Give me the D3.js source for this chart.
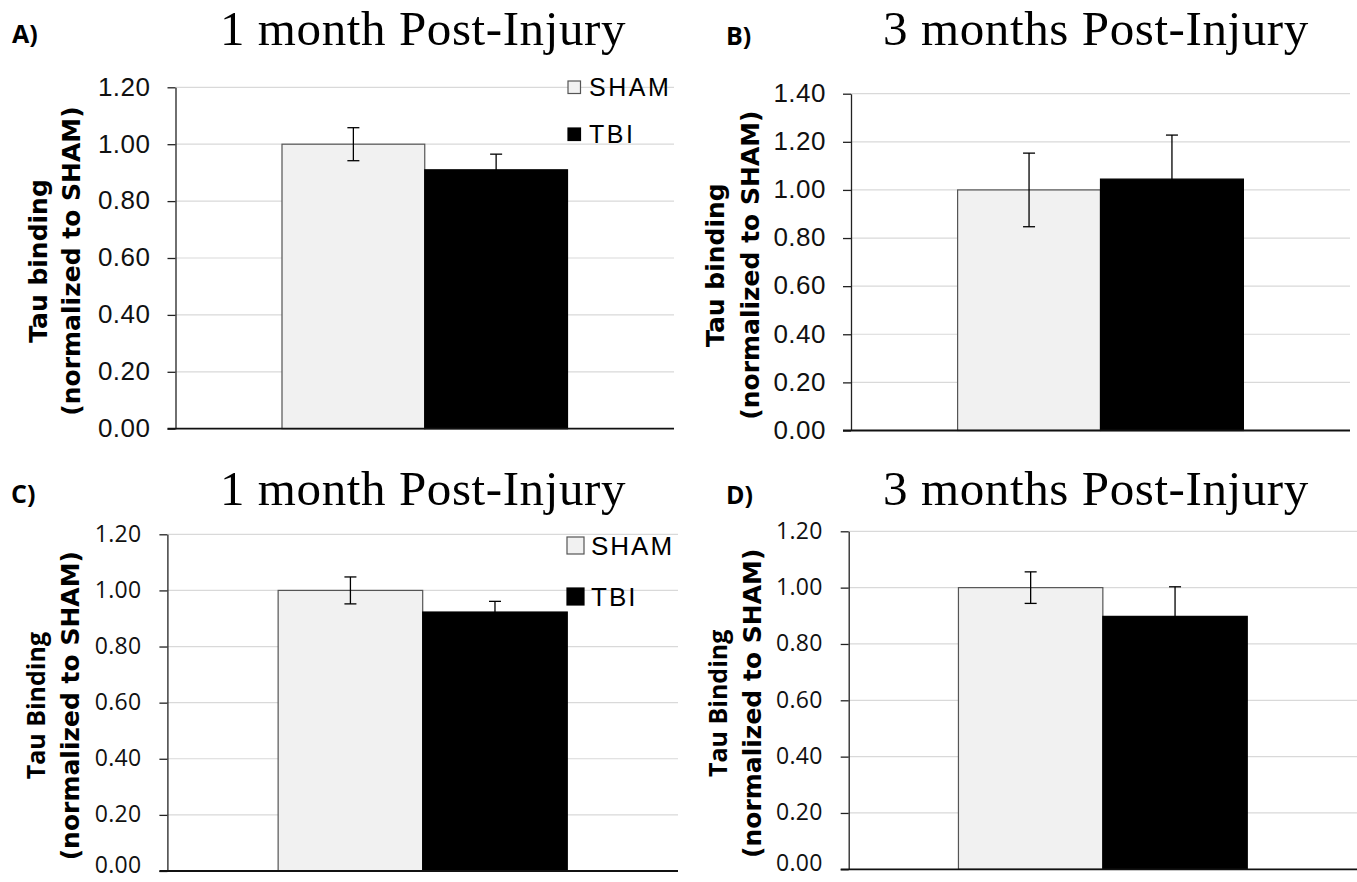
<!DOCTYPE html>
<html>
<head>
<meta charset="utf-8">
<script src="https://cdn.jsdelivr.net/npm/d3@7"></script>
<style>
  body { margin: 0; background: #fff; }
  svg { display: block; }
</style>
</head>
<body>
<svg id="board"></svg>
<script>
const width = 1357;
const height = 882;

// data
const panelLabels = ["A)", "B)", "C)", "D)"];
const panelTitles = ["1 month Post-Injury", "3 months Post-Injury", "1 month Post-Injury", "3 months Post-Injury"];
const groups = ["SHAM", "TBI"];
const categories = ["Post-Injury"];
const yTitleTop = ["Tau binding", "Tau binding", "Tau Binding", "Tau Binding"];
const yTitleBottom = ["(normalized to SHAM)", "(normalized to SHAM)", "(normalized to SHAM)", "(normalized to SHAM)"];
const yMax = [1.2, 1.4, 1.2, 1.2];
const ticks12 = [0, 0.2, 0.4, 0.6, 0.8, 1.0, 1.2];
const ticks14 = [0, 0.2, 0.4, 0.6, 0.8, 1.0, 1.2, 1.4];
const yTicks = [ticks12, ticks14, ticks12, ticks12];
const shamMean = [1.00, 1.00, 1.00, 1.00];
const shamErr = [0.058, 0.153, 0.048, 0.056];
const tbiMean = [0.910, 1.045, 0.923, 0.898];
const tbiErr = [0.055, 0.183, 0.038, 0.105];
const showLegend = [true, false, true, false];

// where each panel sits on the page
const layout = [
    {left: 175.5, right: 674, top: 87.3, bottom: 428.7, pad: 0.373, titleX: 423, titleY: 45, labX: 12, labY: 43,
     t1: -129, t2: -96, tickFont: "Liberation Sans", tickSize: 26, tickSpace: 0.5, tickPad: 17, topFont: "DejaVu Sans", topSize: 25},
    {left: 851, right: 1350, top: 93.7, bottom: 430.5, pad: 0.373, titleX: 1096, titleY: 45, labX: 726, labY: 45,
     t1: -127, t2: -92, tickFont: "Liberation Sans", tickSize: 26, tickSpace: 0.5, tickPad: 17, topFont: "DejaVu Sans", topSize: 25},
    {left: 167.4, right: 678, top: 534.3, bottom: 871, pad: 0.383, titleX: 423, titleY: 505, labX: 11, labY: 503,
     t1: -122, t2: -88, tickFont: "Open Sans", tickSize: 23, tickSpace: 0.3, tickPad: 18, topFont: "Open Sans", topSize: 25},
    {left: 848.7, right: 1357, top: 531.3, bottom: 869.3, pad: 0.38, titleX: 1096, titleY: 505, labX: 726, labY: 504,
     t1: -122, t2: -88, tickFont: "Open Sans", tickSize: 23, tickSpace: 0.3, tickPad: 18, topFont: "Open Sans", topSize: 25}
];

const colors = {SHAM: "#f1f1f1", TBI: "#000000"};

const svg = d3.select("#board").attr("width", width).attr("height", height);
svg.append("rect").attr("width", width).attr("height", height).attr("fill", "#fff");

function drawPanel(i) {
    const L = layout[i];
    const g = svg.append("g");

    const y = d3.scaleLinear().domain([0, yMax[i]]).range([L.bottom, L.top]);
    const x0 = d3.scaleBand().domain(categories).range([L.left, L.right]).paddingInner(0).paddingOuter(L.pad);
    const x1 = d3.scaleBand().domain(groups).range([0, x0.bandwidth()]);

    // gridlines
    g.selectAll(".grid")
        .data(yTicks[i].filter(d => d > 0))
        .enter().append("line")
        .attr("x1", L.left).attr("x2", L.right)
        .attr("y1", d => y(d)).attr("y2", d => y(d))
        .attr("stroke", "#d9d9d9").attr("stroke-width", 1.2);

    // y axis
    const yAxis = d3.axisLeft(y)
        .tickValues(yTicks[i])
        .tickFormat(d3.format(".2f"))
        .tickSize(8)
        .tickPadding(L.tickPad)
        .tickSizeOuter(0);
    const ay = g.append("g").attr("transform", `translate(${L.left},0)`).call(yAxis);
    ay.select(".domain").attr("stroke", "#222").attr("stroke-width", 1.3);
    ay.selectAll(".tick line").attr("stroke", "#222").attr("stroke-width", 1.3);
    // the bottom panels sit right at the page edge, so lift their zero label a bit
    const lowPanel = L.bottom > 800;
    ay.selectAll(".tick text")
        .attr("fill", "#111")
        .attr("dy", d => (lowPanel && d === 0) ? "0.05em" : "0.3em")
        .style("font-family", L.tickFont)
        .style("font-size", L.tickSize + "px")
        .style("letter-spacing", L.tickSpace + "px");

    // bars
    const rows = groups.map(k => ({
        key: k,
        cat: categories[0],
        mean: k === "SHAM" ? shamMean[i] : tbiMean[i],
        err: k === "SHAM" ? shamErr[i] : tbiErr[i]
    }));

    g.selectAll(".bar")
        .data(rows)
        .enter().append("rect")
        .attr("x", d => x0(d.cat) + x1(d.key))
        .attr("width", x1.bandwidth())
        .attr("y", d => y(d.mean))
        .attr("height", d => y(0) - y(d.mean))
        .attr("fill", d => colors[d.key])
        .attr("stroke", d => d.key === "SHAM" ? "#555" : "#000")
        .attr("stroke-width", 1.2);

    // error bars
    const eb = g.selectAll(".err").data(rows).enter().append("g")
        .attr("stroke", "#000").attr("stroke-width", 1.3);
    const cx = d => x0(d.cat) + x1(d.key) + x1.bandwidth() / 2;
    eb.append("line")
        .attr("x1", cx).attr("x2", cx)
        .attr("y1", d => y(d.mean + d.err)).attr("y2", d => y(d.mean - d.err));
    eb.append("line")
        .attr("x1", d => cx(d) - 6).attr("x2", d => cx(d) + 6)
        .attr("y1", d => y(d.mean + d.err)).attr("y2", d => y(d.mean + d.err));
    eb.append("line")
        .attr("x1", d => cx(d) - 6).attr("x2", d => cx(d) + 6)
        .attr("y1", d => y(d.mean - d.err)).attr("y2", d => y(d.mean - d.err));

    // x axis baseline
    g.append("line")
        .attr("x1", L.left - 8).attr("x2", L.right)
        .attr("y1", y(0)).attr("y2", y(0))
        .attr("stroke", "#111").attr("stroke-width", 1.8);

    // y axis title
    const cy = (L.top + L.bottom) / 2 + 3;
    g.append("text")
        .attr("transform", `translate(${L.left + L.t1},${cy}) rotate(-90)`)
        .attr("text-anchor", "middle")
        .style("font-family", L.topFont)
        .style("font-weight", "bold")
        .style("font-size", L.topSize + "px")
        .text(yTitleTop[i]);
    g.append("text")
        .attr("transform", `translate(${L.left + L.t2},${cy}) rotate(-90)`)
        .attr("text-anchor", "middle")
        .style("font-family", "DejaVu Sans")
        .style("font-weight", "bold")
        .style("font-size", "25px")
        .text(yTitleBottom[i]);

    // title and panel letter
    g.append("text")
        .attr("x", L.titleX).attr("y", L.titleY)
        .attr("text-anchor", "middle")
        .style("font-family", "Liberation Serif")
        .style("font-size", "49px")
        .style("letter-spacing", "0.6px")
        .text(panelTitles[i]);
    g.append("text")
        .attr("x", L.labX).attr("y", L.labY)
        .style("font-family", "Open Sans")
        .style("font-weight", "bold")
        .style("font-size", "25px")
        .text(panelLabels[i]);

    // legend
    if (showLegend[i]) {
        const big = i === 2;
        const box = big ? 17 : 12.5;
        const lx = big ? 567 : 568;
        const ly = big ? [537, 588] : [81, 128];
        const leg = g.selectAll(".leg").data(groups).enter().append("g");
        leg.append("rect")
            .attr("x", lx).attr("y", (d, j) => ly[j])
            .attr("width", box).attr("height", box)
            .attr("fill", d => colors[d])
            .attr("stroke", d => d === "SHAM" ? "#555" : "#000")
            .attr("stroke-width", 1.2);
        leg.append("text")
            .attr("x", big ? 591 : 589)
            .attr("y", (d, j) => ly[j] + box + (big ? 1 : 2))
            .style("font-family", "Liberation Sans")
            .style("font-size", big ? "26px" : "25px")
            .style("letter-spacing", big ? "2px" : "2.5px")
            .text(d => d);
    }
}

for (let i = 0; i < 4; i++) drawPanel(i);
</script>
</body>
</html>
